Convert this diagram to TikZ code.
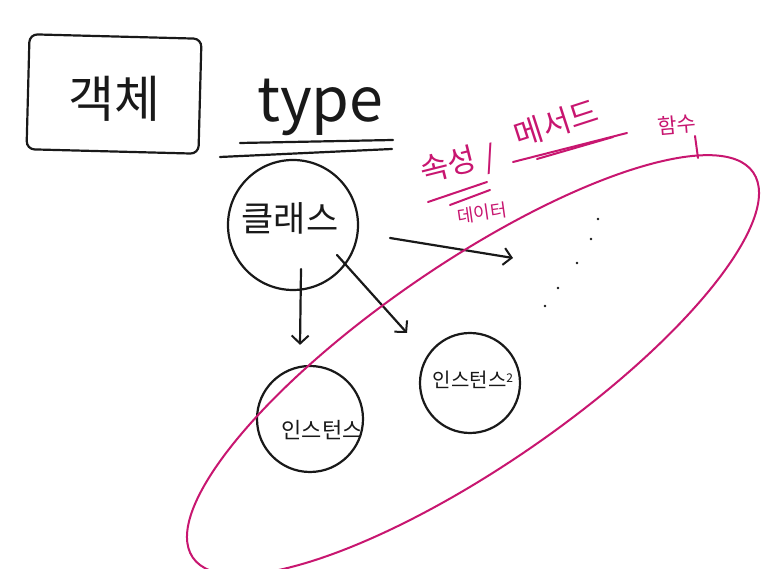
\documentclass[tikz,border=0pt]{standalone}
\usepackage{fontspec}
\setmainfont{Noto Sans CJK KR}
\usetikzlibrary{arrows.meta}
\definecolor{mag}{RGB}{200,22,112}
\definecolor{ink}{RGB}{25,25,25}
\begin{document}
\begin{tikzpicture}[x=1pt,y=1pt,
  inkline/.style={line width=2.2pt, draw=ink, line cap=round},
  arr/.style={inkline, -{Straight Barb[length=8pt,width=17pt,line width=2pt]}},
  pinkline/.style={line width=2pt, draw=mag, line cap=round},
  circ/.style={circle, draw=ink, line width=2.2pt, inner sep=0pt},
  fs/.style={font=\fontsize{#1}{#1}\selectfont},
  inktext/.style={text=ink, inner sep=0pt},
  pinktext/.style={text=mag, inner sep=0pt}
]
\useasboundingbox (0,0) rectangle (771,569);
\fill[white] (0,0) rectangle (771,569);

% object box
\node[draw=ink, line width=2.2pt, rounded corners=8pt, minimum width=172pt,
      minimum height=115pt, rotate=-1.5] (objbox) at (114,475) {};
\node[inktext, fs=50] (obj) at (114,470) {객체};

% type
\node[inktext, fs=61, anchor=base west] (type) at (257,447) {type};
\coordinate (u1a) at (240,426); \coordinate (u1b) at (393,429);
\coordinate (u2a) at (220,412); \coordinate (u2b) at (392,420);
\draw[inkline] (u1a) -- (u1b);
\draw[inkline] (u2a) -- (u2b);

% class circle
\node[circ, minimum size=130pt] (class) at (293,344) {};
\node[inktext, fs=35] (classt) at (290,351) {클래스};

% instances
\node[circ, minimum size=106pt] (inst1) at (310,150) {};
\node[inktext, fs=22] (inst1t) at (322,139) {인스턴스};
\node[circ, minimum size=100pt] (inst2) at (470,186) {};
\node[inktext, fs=20] (inst2t) at (473,189) {인스턴스\raisebox{5pt}{\fontsize{12}{12}\selectfont 2}};

% arrows
\coordinate (attrEnd) at (513,311);
\draw[arr] ([shift={(8,22)}]class.south) -- ([shift={(-10,20)}]inst1.north);
\draw[arr] ([shift={(44,-30)}]class.center) -- ([shift={(-63,50)}]inst2.center);
\draw[arr] ([shift={(97,-13)}]class.center) -- (attrEnd);

% dots
\foreach \p in {(598,350),(591,330),(577,306),(558,281),(545,263)}
  \fill[ink] \p circle (1.4pt);

% magenta annotations
\node[pinktext, fs=31, rotate=14] (prop) at (448,405) {속성};
\node[pinktext, fs=31, rotate=14] (slash) at (490,410) {/};
\node[pinktext, fs=31, rotate=18] (meth) at (556,446) {메서드};
\draw[pinkline] (428,367) -- (487,387);
\draw[pinkline] (450,364) -- (490,379);
\draw[pinkline] (513,407) -- (627,436);
\draw[pinkline] (537,410) -- (613,432);
\node[pinktext, fs=18, rotate=8] (data) at (482,356) {데이터};
\node[pinktext, fs=21, rotate=5] (func) at (677,444) {함수};
\coordinate (tickTop) at (695,433);
\coordinate (tickBot) at (698,411);
\draw[pinkline] (tickTop) -- (tickBot);

% big ellipse
\draw[pinkline, rotate around={34.5:(473,204)}] (473,204) ellipse [x radius=340, y radius=101];
\end{tikzpicture}
\end{document}
